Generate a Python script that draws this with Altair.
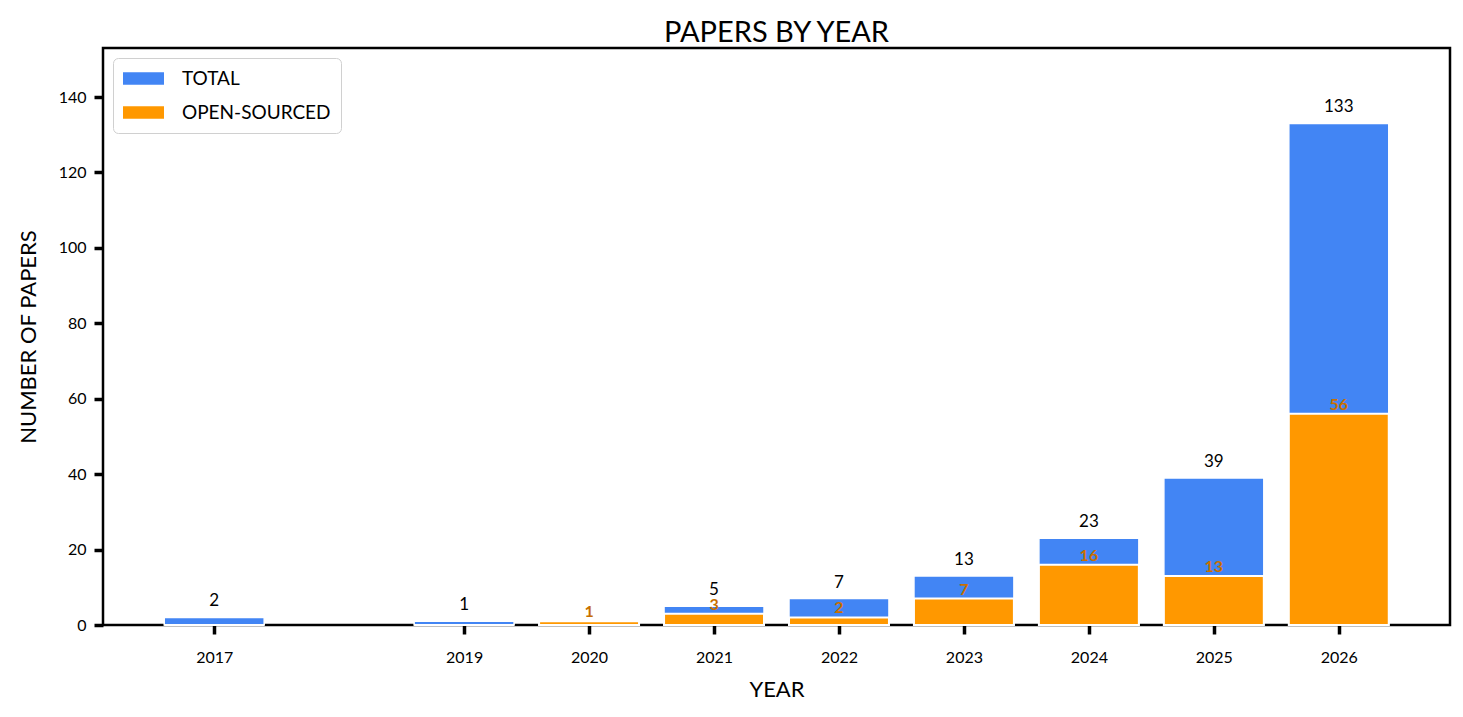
import altair as alt
import pandas as pd

years = [2017, 2019, 2020, 2021, 2022, 2023, 2024, 2025, 2026]
total = [2, 1, 1, 5, 7, 13, 23, 39, 133]
open_sourced = [0, 0, 1, 3, 2, 7, 16, 13, 56]

series_names = ["TOTAL", "OPEN-SOURCED"]
series_colors = ["#4285F4", "#FF9800"]

FONT = "Lato"

rows = []
for y, t, o in zip(years, total, open_sourced):
    rows.append({"year": y, "x0": y - 0.4, "x1": y + 0.4, "value": t, "other": o, "series": "TOTAL"})
    rows.append({"year": y, "x0": y - 0.4, "x1": y + 0.4, "value": o, "other": t, "series": "OPEN-SOURCED"})
data = pd.DataFrame(rows)
tot = data[data.series == "TOTAL"]
opn = data[data.series == "OPEN-SOURCED"]
# the total label is hidden under the open-sourced one when both are equal
tot_lab = tot[tot.value != tot.other]
opn_lab = opn[opn.value > 0]

x_scale = alt.Scale(domain=[2016.11, 2026.89], nice=False, zero=False)
y_scale = alt.Scale(domain=[0, 153], nice=False)
color = alt.Color(
    "series:N",
    scale=alt.Scale(domain=series_names, range=series_colors),
    sort=series_names,
    legend=alt.Legend(
        title=None,
        orient="top-left",
        offset=10,
        symbolType="M-2,-0.6L2,-0.6L2,0.6L-2,0.6Z",
        symbolSize=420,
        symbolOffset=10,
        symbolStrokeWidth=0,
        labelFont=FONT,
        labelFontSize=19,
        labelOffset=28,
        rowPadding=13,
        padding=10,
        strokeColor="#d0d0d0",
        cornerRadius=5,
        fillColor="white",
    ),
)

bars_total = alt.Chart(tot).mark_bar(stroke="white", strokeWidth=1.5).encode(
    x=alt.X("x0:Q", scale=x_scale, title="YEAR",
            axis=alt.Axis(values=years, format="d", grid=False, domain=False,
                          labelPadding=15, titlePadding=14)),
    x2="x1:Q",
    y=alt.Y("value:Q", scale=y_scale, title="NUMBER OF PAPERS",
            axis=alt.Axis(values=list(range(0, 141, 20)), grid=False, domain=False,
                          labelPadding=8, titlePadding=18)),
    y2=alt.datum(0),
    color=color,
)
bars_open = alt.Chart(opn).mark_bar(stroke="white", strokeWidth=2).encode(
    x=alt.X("x0:Q", scale=x_scale),
    x2="x1:Q",
    y=alt.Y("value:Q", scale=y_scale),
    y2=alt.datum(0),
    color=color,
)

lab_total = alt.Chart(tot_lab).mark_text(
    baseline="bottom", dy=-7, font=FONT, fontSize=17, color="black"
).encode(
    x=alt.X("year:Q", scale=x_scale),
    y=alt.Y("value:Q", scale=y_scale),
    text="value:Q",
)
lab_open = alt.Chart(opn_lab).mark_text(
    baseline="bottom", dy=-1, font=FONT, fontSize=16, fontWeight="bold",
    color="#C86F00"
).encode(
    x=alt.X("year:Q", scale=x_scale),
    y=alt.Y("value:Q", scale=y_scale),
    text="value:Q",
)

chart = (
    alt.layer(bars_total, bars_open, lab_total, lab_open)
    .properties(
        width=1347,
        height=577,
        padding={"left": 9, "top": 11, "right": 5, "bottom": 0},
        title=alt.TitleParams("PAPERS BY YEAR", font=FONT, fontSize=29,
                              fontWeight="normal", offset=0),
    )
    .configure_view(stroke="black", strokeWidth=2.5)
    .configure_axis(
        labelFont=FONT,
        labelFontSize=16,
        labelColor="black",
        titleFont=FONT,
        titleFontSize=22,
        titleFontWeight="normal",
        titleColor="black",
        tickColor="black",
        tickWidth=3.5,
        tickSize=9,
    )
)

chart.save("out.html", embed_options={"renderer": "svg", "actions": False})
